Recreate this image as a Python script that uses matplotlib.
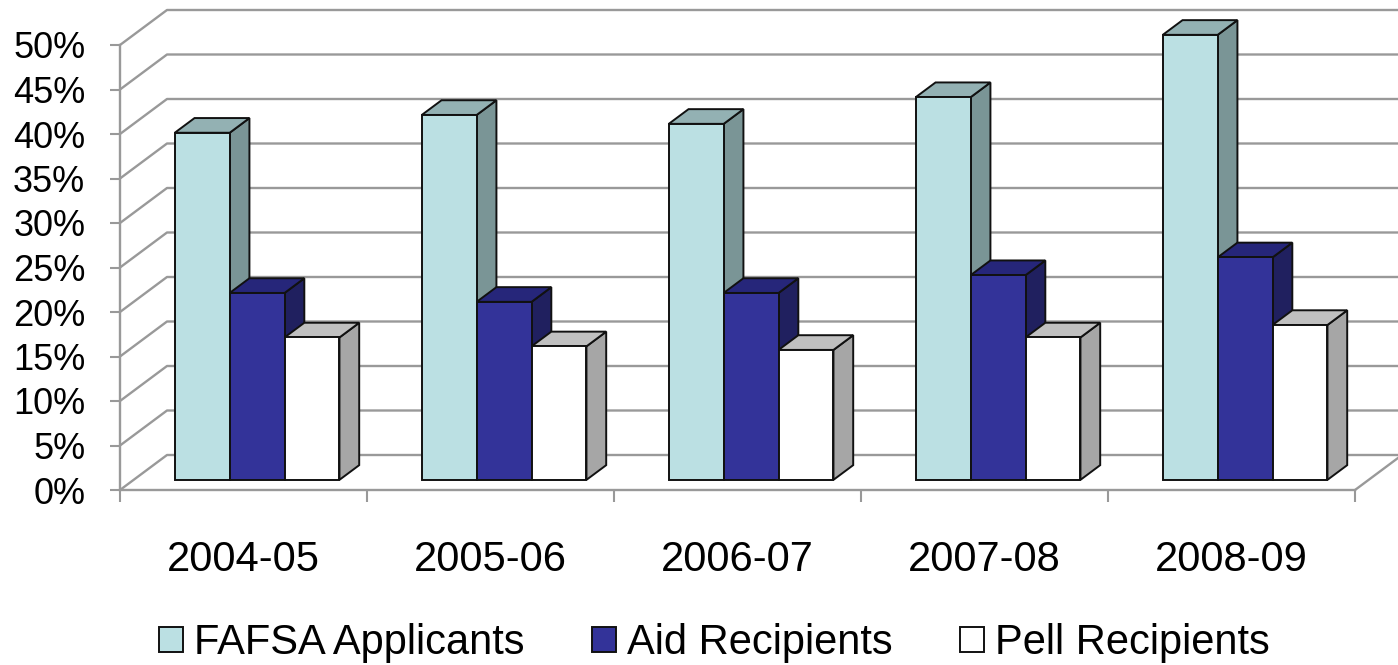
import matplotlib

matplotlib.use("Agg")
import matplotlib.pyplot as plt
import matplotlib.ticker as mticker
from matplotlib.patches import Patch, Polygon

# ── Data ──────────────────────────────────────────────────────────────────────
years = ["2004-05", "2005-06", "2006-07", "2007-08", "2008-09"]
fafsa = [39, 41, 40, 43, 50]
aid = [21, 20, 21, 23, 25]
pell = [16, 15, 14.6, 16, 17.4]
series_names = ["FAFSA Applicants", "Aid Recipients", "Pell Recipients"]
y_ticks = list(range(0, 51, 5))

# ── Style ─────────────────────────────────────────────────────────────────────
FACES = [  # front, top, side
    ("#BBE0E3", "#93B1B3", "#7A9596"),
    ("#333399", "#26267A", "#20205F"),
    ("#FFFFFF", "#C0C0C0", "#A6A6A6"),
]
GRID = "#999999"
EDGE = "#111111"
DEPTH_PX = (47, 35)          # floor depth, pixels
BAR_FRONT, BAR_BACK = 0.29, 0.71
BAR_W = 1 / 4.5              # gap width 150 %

plt.rcParams["font.family"] = ["Liberation Sans", "DejaVu Sans"]

fig = plt.figure(figsize=(13.98, 6.65), dpi=100)
ax = fig.add_axes([120 / 1398, 175 / 665, 1235 / 1398, 445 / 665])
ax.set_xlim(0, len(years))
ax.set_ylim(0, 50)

# depth offset in data units
ddx = DEPTH_PX[0] / (1235 / len(years))
ddy = DEPTH_PX[1] / (445 / 50)

# back wall + side wall gridlines
for v in y_ticks:
    ax.plot([0, ddx, len(years) + ddx], [v, v + ddy, v + ddy],
            color=GRID, lw=1.7, zorder=1, clip_on=False, solid_capstyle="butt")
# floor
ax.plot([len(years), len(years) + ddx], [0, ddy], color=GRID, lw=1.7,
        zorder=1, clip_on=False)

# bars
for s, vals in enumerate([fafsa, aid, pell]):
    front, top, side = FACES[s]
    lefts = [i + 0.5 + (s - 1.5) * BAR_W + BAR_FRONT * ddx for i in range(len(years))]
    base = BAR_FRONT * ddy
    dx = (BAR_BACK - BAR_FRONT) * ddx
    dy = (BAR_BACK - BAR_FRONT) * ddy
    for x0, h in zip(lefts, vals):
        x1 = x0 + BAR_W
        ax.add_patch(Polygon([(x1, base), (x1 + dx, base + dy), (x1 + dx, base + h + dy),
                              (x1, base + h)], closed=True, facecolor=side,
                             edgecolor=EDGE, lw=1.4, zorder=2.5 + s, clip_on=False))
        ax.add_patch(Polygon([(x0, base + h), (x1, base + h), (x1 + dx, base + h + dy),
                              (x0 + dx, base + h + dy)], closed=True, facecolor=top,
                             edgecolor=EDGE, lw=1.4, zorder=2.5 + s, clip_on=False))
    bars = ax.bar(lefts, vals, width=BAR_W, bottom=base, align="edge",
                  color=front, edgecolor=EDGE, linewidth=1.4, zorder=3 + s)
    for b in bars:
        b.set_clip_on(False)

# axes
for side_name in ["top", "right"]:
    ax.spines[side_name].set_visible(False)
for side_name in ["left", "bottom"]:
    ax.spines[side_name].set_color(GRID)
    ax.spines[side_name].set_linewidth(1.7)
    ax.spines[side_name].set_zorder(1)

ax.set_yticks(y_ticks)
ax.yaxis.set_major_formatter(mticker.FuncFormatter(lambda v, _: f"{v:.0f}%"))
ax.tick_params(axis="y", length=7, width=1.5, color=GRID, labelsize=26, pad=18)

ax.set_xticks([i + 0.5 for i in range(len(years))])
ax.set_xticklabels(years)
ax.set_xticks(range(len(years) + 1), minor=True)
ax.tick_params(axis="x", which="major", length=0, labelsize=30, pad=36)
ax.tick_params(axis="x", which="minor", length=8.6, width=1.5, color=GRID)
ax.patch.set_visible(False)

# legend
handles = [Patch(facecolor=FACES[s][0], edgecolor=EDGE, linewidth=1.4) for s in range(3)]
fig.legend(handles, series_names, loc="center", bbox_to_anchor=(714 / 1398, 22 / 665),
           ncol=3, frameon=False, handlelength=0.58, handleheight=0.53,
           handletextpad=0.26, columnspacing=1.62, borderpad=0,
           prop={"size": 30})

fig.savefig("out.png", dpi=100)
